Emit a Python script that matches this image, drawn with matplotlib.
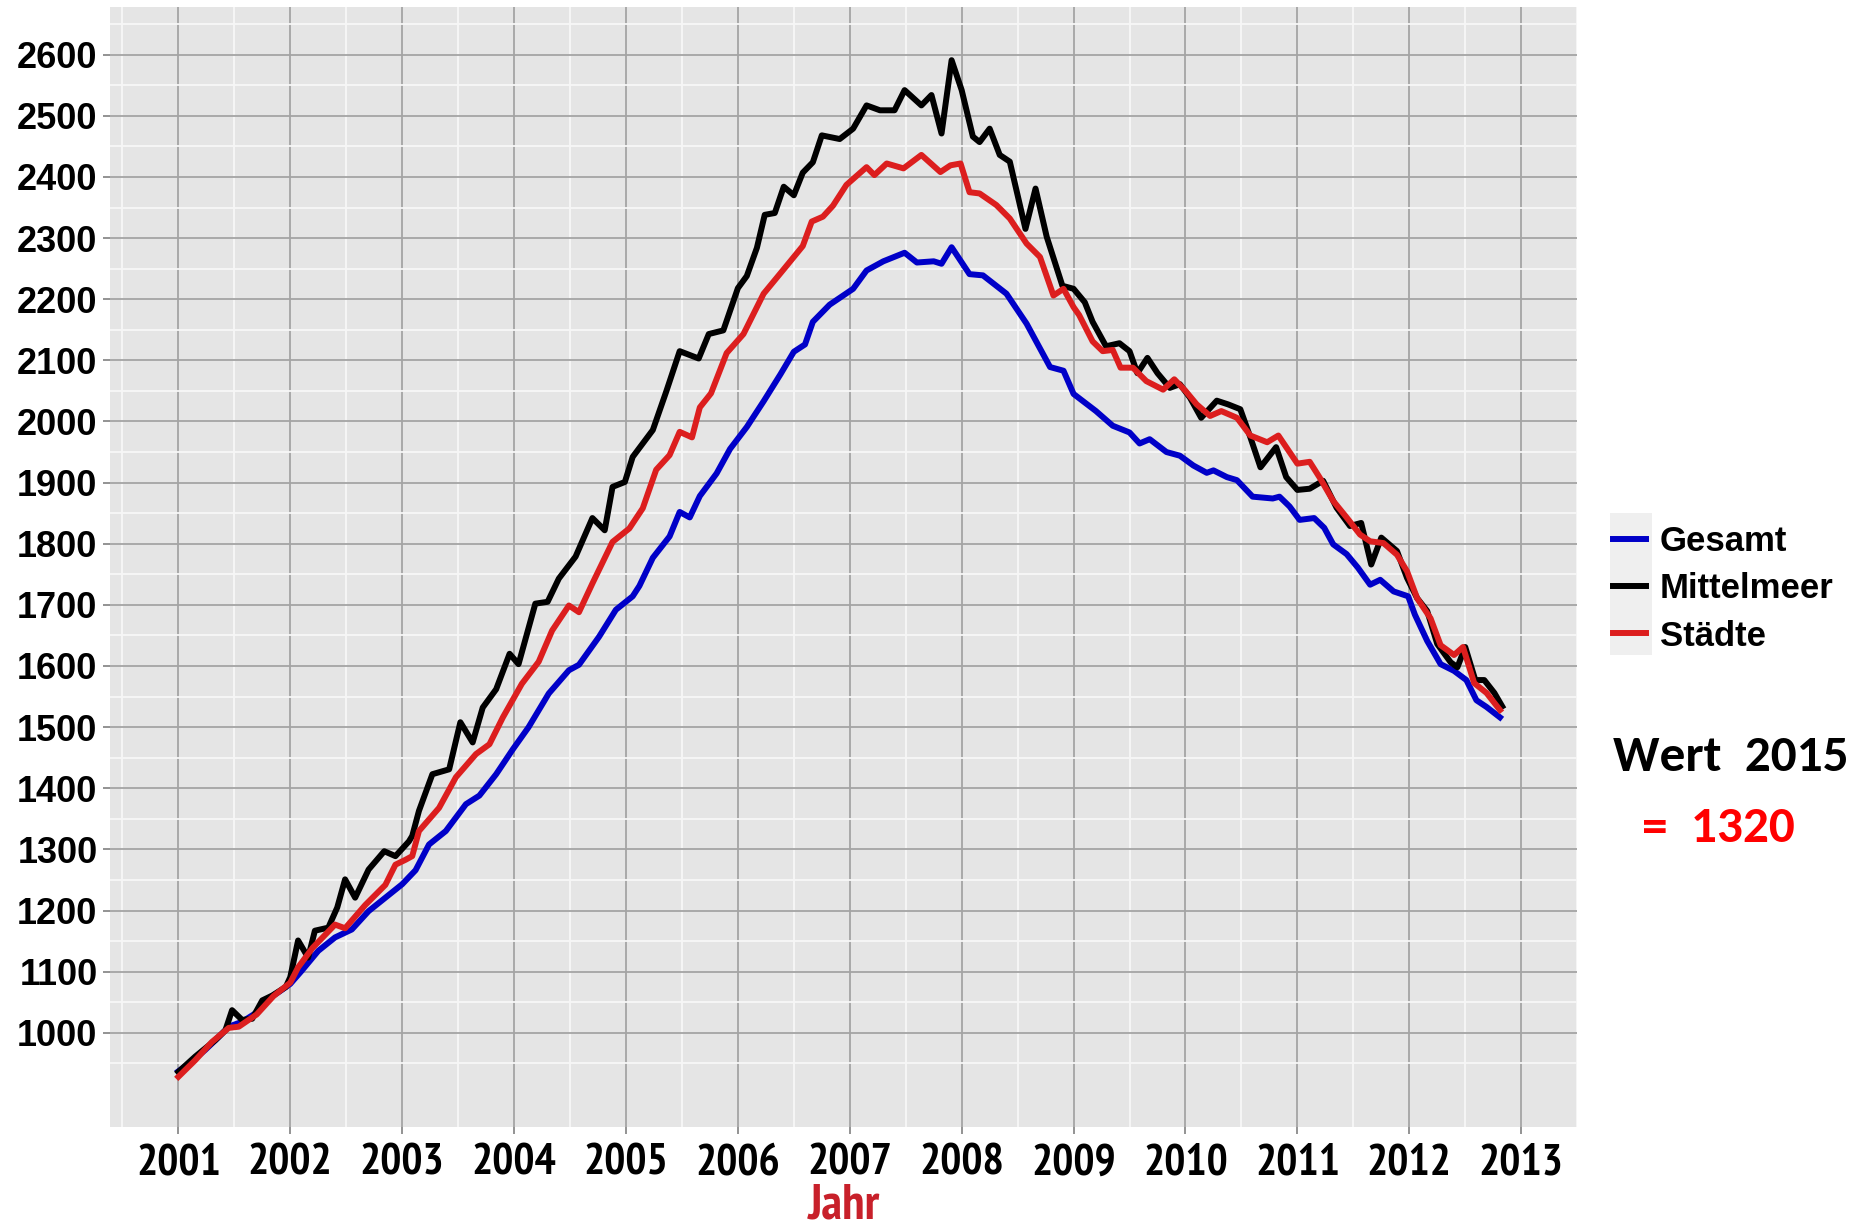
import matplotlib.pyplot as plt
from matplotlib import font_manager
from matplotlib.patches import Rectangle
import numpy as np

# Werte (Jahr als Dezimalzahl)
gesamt_jahr = [2001.00, 2001.12, 2001.24, 2001.36, 2001.45, 2001.57, 2001.69, 2001.78, 2001.90,
               2002.00, 2002.10, 2002.25, 2002.40, 2002.55, 2002.70, 2002.85, 2003.00, 2003.12,
               2003.24, 2003.39, 2003.57, 2003.69, 2003.84, 2003.99, 2004.13, 2004.31, 2004.49,
               2004.58, 2004.76, 2004.91, 2005.06, 2005.12, 2005.24, 2005.39, 2005.48, 2005.57,
               2005.66, 2005.81, 2005.93, 2006.08, 2006.23, 2006.38, 2006.50, 2006.60, 2006.67,
               2006.82, 2007.03, 2007.15, 2007.30, 2007.49, 2007.60, 2007.75, 2007.82, 2007.91,
               2008.07, 2008.19, 2008.40, 2008.58, 2008.79, 2008.91, 2009.00, 2009.20, 2009.35,
               2009.50, 2009.59, 2009.68, 2009.83, 2009.95, 2010.07, 2010.19, 2010.25, 2010.37,
               2010.46, 2010.60, 2010.78, 2010.84, 2010.93, 2011.02, 2011.15, 2011.24, 2011.32,
               2011.44, 2011.54, 2011.65, 2011.74, 2011.86, 2011.99, 2012.05, 2012.16, 2012.28,
               2012.40, 2012.51, 2012.60, 2012.69, 2012.81]
gesamt_wert = [937, 953, 972, 993, 1010, 1018, 1032, 1053, 1067,
               1080, 1101, 1134, 1156, 1169, 1199, 1221, 1243, 1266,
               1308, 1330, 1374, 1388, 1423, 1464, 1500, 1555, 1593,
               1602, 1648, 1692, 1714, 1731, 1777, 1812, 1852, 1843,
               1878, 1915, 1955, 1991, 2033, 2077, 2114, 2126, 2163,
               2191, 2217, 2247, 2262, 2276, 2260, 2262, 2258, 2285,
               2241, 2239, 2209, 2160, 2089, 2083, 2045, 2017, 1993,
               1982, 1964, 1971, 1950, 1944, 1928, 1916, 1920, 1909,
               1904, 1877, 1874, 1877, 1861, 1839, 1842, 1826, 1799,
               1783, 1761, 1733, 1741, 1722, 1714, 1684, 1641, 1603,
               1592, 1577, 1544, 1533, 1516]

mittelmeer_jahr = [2001.00, 2001.15, 2001.33, 2001.42, 2001.48, 2001.57, 2001.66, 2001.75, 2001.84,
                   2001.96, 2002.00, 2002.07, 2002.16, 2002.22, 2002.34, 2002.42, 2002.49, 2002.58,
                   2002.70, 2002.84, 2002.94, 2003.06, 2003.09, 2003.15, 2003.27, 2003.42, 2003.52,
                   2003.63, 2003.72, 2003.84, 2003.96, 2004.04, 2004.19, 2004.30, 2004.40, 2004.55,
                   2004.70, 2004.81, 2004.88, 2004.99, 2005.06, 2005.24, 2005.36, 2005.48, 2005.65,
                   2005.74, 2005.87, 2006.00, 2006.08, 2006.17, 2006.24, 2006.33, 2006.41, 2006.50,
                   2006.58, 2006.67, 2006.75, 2006.91, 2007.03, 2007.15, 2007.27, 2007.40, 2007.49,
                   2007.64, 2007.73, 2007.82, 2007.91, 2008.00, 2008.10, 2008.16, 2008.25, 2008.34,
                   2008.43, 2008.57, 2008.66, 2008.76, 2008.90, 2009.00, 2009.10, 2009.17, 2009.29,
                   2009.41, 2009.50, 2009.57, 2009.66, 2009.75, 2009.86, 2009.95, 2010.04, 2010.14,
                   2010.28, 2010.38, 2010.49, 2010.58, 2010.67, 2010.81, 2010.90, 2011.00, 2011.11,
                   2011.23, 2011.35, 2011.47, 2011.57, 2011.66, 2011.75, 2011.89, 2011.98, 2012.07,
                   2012.16, 2012.25, 2012.37, 2012.43, 2012.50, 2012.59, 2012.67, 2012.76, 2012.83]
mittelmeer_wert = [936, 961, 988, 1004, 1037, 1021, 1023, 1053, 1061,
                   1075, 1091, 1151, 1123, 1167, 1172, 1205, 1251, 1221,
                   1267, 1297, 1289, 1313, 1322, 1363, 1423, 1431, 1508,
                   1475, 1532, 1562, 1620, 1603, 1702, 1705, 1743, 1779,
                   1842, 1822, 1893, 1901, 1942, 1986, 2049, 2115, 2103,
                   2143, 2149, 2218, 2238, 2284, 2338, 2341, 2384, 2370,
                   2407, 2424, 2468, 2462, 2479, 2517, 2509, 2509, 2542,
                   2517, 2534, 2471, 2591, 2542, 2466, 2457, 2479, 2436,
                   2425, 2315, 2381, 2302, 2222, 2217, 2195, 2163, 2123,
                   2128, 2115, 2079, 2104, 2079, 2055, 2061, 2039, 2006,
                   2034, 2028, 2020, 1974, 1925, 1958, 1909, 1888, 1890,
                   1903, 1859, 1829, 1834, 1766, 1810, 1788, 1744, 1711,
                   1690, 1636, 1606, 1598, 1631, 1577, 1577, 1556, 1534]

staedte_jahr = [2001.00, 2001.15, 2001.30, 2001.45, 2001.54, 2001.70, 2001.85, 2002.00, 2002.07,
                2002.20, 2002.40, 2002.49, 2002.67, 2002.85, 2002.94, 2003.03, 2003.09, 2003.15,
                2003.33, 2003.48, 2003.66, 2003.78, 2003.90, 2004.07, 2004.22, 2004.34, 2004.49,
                2004.58, 2004.70, 2004.88, 2005.03, 2005.15, 2005.27, 2005.39, 2005.48, 2005.59,
                2005.66, 2005.76, 2005.90, 2006.05, 2006.23, 2006.41, 2006.58, 2006.66, 2006.76,
                2006.85, 2006.97, 2007.15, 2007.22, 2007.33, 2007.48, 2007.64, 2007.81, 2007.90,
                2007.99, 2008.07, 2008.16, 2008.31, 2008.43, 2008.58, 2008.70, 2008.82, 2008.91,
                2009.00, 2009.05, 2009.17, 2009.26, 2009.35, 2009.42, 2009.53, 2009.65, 2009.80,
                2009.90, 2010.00, 2010.10, 2010.22, 2010.32, 2010.46, 2010.58, 2010.73, 2010.83,
                2011.00, 2011.11, 2011.20, 2011.32, 2011.44, 2011.56, 2011.65, 2011.77, 2011.89,
                2011.98, 2012.07, 2012.19, 2012.28, 2012.40, 2012.48, 2012.58, 2012.69, 2012.81]
staedte_wert = [928, 955, 985, 1008, 1010, 1030, 1060, 1082, 1107,
                1139, 1177, 1171, 1209, 1242, 1275, 1283, 1289, 1330,
                1368, 1418, 1456, 1472, 1516, 1571, 1607, 1658, 1699,
                1688, 1735, 1803, 1825, 1858, 1921, 1945, 1983, 1974,
                2023, 2046, 2112, 2143, 2209, 2249, 2287, 2327, 2335,
                2353, 2387, 2416, 2403, 2422, 2414, 2436, 2408, 2419,
                2422, 2375, 2373, 2354, 2332, 2291, 2269, 2206, 2217,
                2187, 2174, 2131, 2115, 2117, 2088, 2088, 2066, 2052,
                2069, 2050, 2028, 2009, 2017, 2006, 1977, 1966, 1977,
                1931, 1934, 1908, 1870, 1843, 1815, 1804, 1801, 1782,
                1755, 1711, 1678, 1634, 1618, 1631, 1572, 1556, 1528]

serien = ['Gesamt', 'Mittelmeer', 'Städte']
farben = ['#0000C8', '#000000', '#DC1E1E']
jahre = np.arange(2001, 2014)
y_ticks = np.arange(1000, 2700, 100)


def erste_schrift(kandidaten, fett=True):
    # erste installierte Schrift aus der Liste (mit fettem Schnitt, falls verlangt)
    for k in kandidaten:
        for f in font_manager.fontManager.ttflist:
            if f.name == k and (not fett or f.weight in (600, 700, 800, 'bold')):
                return k
    return 'Liberation Sans'


schmal = erste_schrift(['Liberation Sans Narrow', 'Arial Narrow', 'PT Sans Narrow',
                        'Roboto Condensed', 'Archivo Narrow', 'Open Sans Condensed'])
calibri = erste_schrift(['Carlito', 'Calibri', 'Lato'])
arial = erste_schrift(['Arimo', 'Liberation Sans'])
wert_groesse = 37 if calibri in ('Carlito', 'Calibri') else 34

fig = plt.figure(figsize=(18.66, 12.26), dpi=100)
ax = fig.add_axes([0.0590, 0.0808, 0.7862, 0.9135])
ax.set_facecolor('#E5E5E5')
for s in ax.spines.values():
    s.set_visible(False)

daten = [(gesamt_jahr, gesamt_wert), (mittelmeer_jahr, mittelmeer_wert), (staedte_jahr, staedte_wert)]
for (x, y), name, farbe in zip(daten, serien, farben):
    ax.plot(x, y, color=farbe, lw=4.3, label=name, solid_joinstyle='round', zorder=3)

ax.set_xlim(2000.39, 2013.50)
ax.set_ylim(846, 2678)

# Gitter: graue Hauptlinien, weisse Nebenlinien
ax.set_xticks(jahre)
ax.set_xticks(np.arange(2000.5, 2014, 1), minor=True)
ax.set_yticks(y_ticks)
ax.set_yticks(np.arange(950, 2700, 100), minor=True)
ax.grid(which='major', color='#A4A4A4', lw=1.3, zorder=1)
ax.grid(which='minor', color='#F7F7F7', lw=1.3, zorder=1)
ax.set_axisbelow(True)

ax.tick_params(which='major', length=5, width=1.3, color='#8A8A8A', pad=4)
ax.tick_params(which='minor', length=0)
ax.tick_params(axis='x', pad=7)
ax.set_xticklabels([str(j) for j in jahre], fontsize=32, fontweight='bold', family=schmal)
ax.set_yticklabels([str(v) for v in y_ticks], fontsize=26, fontweight='bold', family=arial)
ax.set_xlabel('Jahr', fontsize=36, fontweight='bold', color='#C8202A', family=schmal, labelpad=0)

# Legende mit grauen Schluesselfeldern
fig.patches.append(Rectangle((0.8628, 0.4657), 0.0225, 0.1159, transform=fig.transFigure,
                             facecolor='#EFEFEF', edgecolor='none', zorder=-1))
leg = ax.legend(loc='upper left', bbox_to_anchor=(0.8644, 0.5717), bbox_transform=fig.transFigure,
                frameon=False, borderpad=0, borderaxespad=0, handlelength=0.95,
                handletextpad=0.4, labelspacing=0.41,
                prop={'family': arial, 'weight': 'bold', 'size': 25})
for l in leg.get_lines():
    l.set_linewidth(4.3)

fig.text(0.8644, 0.3825, 'Wert  2015', fontsize=wert_groesse, fontweight='bold', family=calibri,
         va='center', ha='left', color='black')
fig.text(0.8800, 0.3250, '=  1320', fontsize=wert_groesse, fontweight='bold', family=calibri,
         va='center', ha='left', color='#FF0000')

fig.savefig('out.png', dpi=100)
